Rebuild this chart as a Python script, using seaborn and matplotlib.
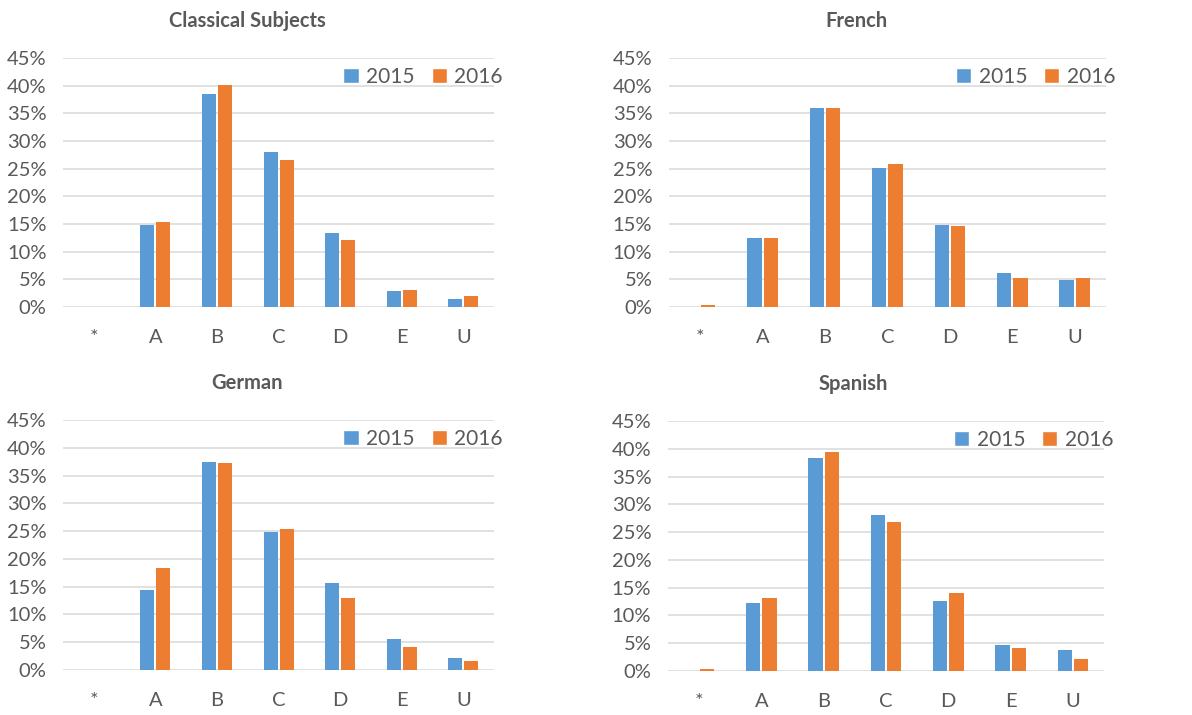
import pandas as pd
import matplotlib
matplotlib.use("Agg")
import matplotlib.pyplot as plt
from matplotlib.patches import Patch
from matplotlib.ticker import PercentFormatter, MultipleLocator
import seaborn as sns

# ---- data ----
grades = ["*", "A", "B", "C", "D", "E", "U"]
years = ["2015", "2016"]

classical_2015 = [0.0, 14.9, 38.5, 28.0, 13.4, 2.9, 1.5]
classical_2016 = [0.0, 15.3, 40.1, 26.5, 12.2, 3.1, 2.0]

french_2015 = [0.0, 12.5, 36.0, 25.2, 14.9, 6.1, 4.8]
french_2016 = [0.3, 12.5, 36.0, 25.9, 14.7, 5.2, 5.2]

german_2015 = [0.0, 14.4, 37.4, 24.8, 15.7, 5.5, 2.1]
german_2016 = [0.0, 18.4, 37.2, 25.4, 13.0, 4.2, 1.7]

spanish_2015 = [0.0, 12.3, 38.3, 28.1, 12.6, 4.6, 3.7]
spanish_2016 = [0.3, 13.2, 39.5, 26.8, 14.1, 4.2, 2.2]

subjects = ["Classical Subjects", "French", "German", "Spanish"]
series = {
    "Classical Subjects": (classical_2015, classical_2016),
    "French": (french_2015, french_2016),
    "German": (german_2015, german_2016),
    "Spanish": (spanish_2015, spanish_2016),
}

colors = {"2015": "#5B9BD5", "2016": "#ED7D31"}
text_color = "#595959"

sns.set_theme(style="white")
plt.rcParams["font.family"] = ["Lato", "DejaVu Sans"]

fig = plt.figure(figsize=(11.92, 7.15), dpi=100)

# axes positions in figure fractions (left, bottom, width, height)
positions = [
    (0.0529, 0.5706, 0.3616, 0.3483),
    (0.5612, 0.5706, 0.3666, 0.3483),
    (0.0529, 0.0629, 0.3616, 0.3497),
    (0.5604, 0.0615, 0.3658, 0.3497),
]
title_x = [0.427, 0.428, 0.427, 0.426]

for subject, pos, tx in zip(subjects, positions, title_x):
    ax = fig.add_axes(pos)
    v15, v16 = series[subject]
    df = pd.DataFrame({
        "grade": grades * 2,
        "year": ["2015"] * len(grades) + ["2016"] * len(grades),
        "share": [v / 100 for v in v15 + v16],
    })
    sns.barplot(data=df, x="grade", y="share", hue="year", order=grades,
                hue_order=years, palette=colors, saturation=1, width=0.52,
                gap=0.12, linewidth=0, legend=False, ax=ax)

    ax.set_ylim(0, 0.45)
    ax.set_xlim(-0.5, len(grades) - 0.5)
    ax.yaxis.set_major_locator(MultipleLocator(0.05))
    ax.yaxis.set_major_formatter(PercentFormatter(1.0, decimals=0))
    ax.yaxis.grid(True, color="#d9d9d9", linewidth=1.1)
    ax.set_axisbelow(True)
    for s in ax.spines.values():
        s.set_visible(False)
    ax.set_xlabel("")
    ax.set_ylabel("")
    ax.tick_params(axis="both", length=0, labelsize=14.5, labelcolor=text_color)
    ax.tick_params(axis="x", pad=16)
    ax.tick_params(axis="y", pad=12)

    ax.text(tx, 1.148, subject, transform=ax.transAxes, ha="center",
            va="center", fontsize=14.5, fontweight="bold", color=text_color)

    handles = [Patch(facecolor=colors[y], label=y) for y in years]
    ax.legend(handles=handles, loc="center right", bbox_to_anchor=(1.04, 0.925),
              ncol=2, frameon=False, fontsize=15, labelcolor=text_color,
              handlelength=0.75, handleheight=0.75, handletextpad=0.35,
              columnspacing=0.8, borderaxespad=0)

fig.savefig("out.png", dpi=100)
